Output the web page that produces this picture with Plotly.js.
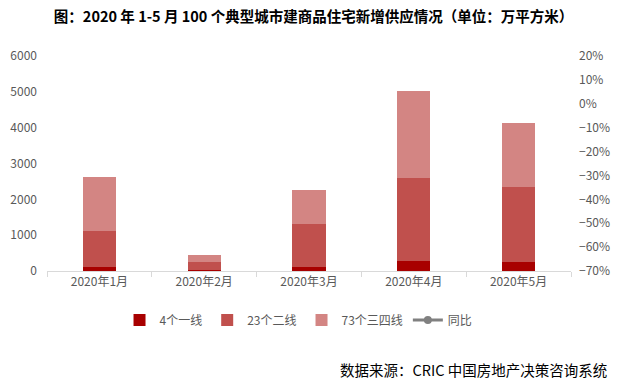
<!DOCTYPE html>
<html>
<head>
<meta charset="utf-8">
<script src="https://cdn.plot.ly/plotly-3.0.1.min.js"></script>
<style>html,body{margin:0;padding:0;background:#fff;}#chart{width:627px;height:386px;}</style>
</head>
<body>
<div id="chart"></div>
<script>
const months = ['2020年1月','2020年2月','2020年3月','2020年4月','2020年5月'];
const tier1 = [110, 35, 105, 280, 250];
const tier2 = [1005, 215, 1210, 2320, 2100];
const tier34 = [1515, 195, 950, 2430, 1790];
const yoy = [null, null, null, null, null];
const names = ['4个一线','23个二线','73个三四线','同比'];

const FONT = '"Noto Sans CJK SC", "DejaVu Sans", sans-serif';
const W = 0.315;
const traces = [
  {type:'bar', name:names[0], x:months, y:tier1, width:W, marker:{color:'#A80000'}},
  {type:'bar', name:names[1], x:months, y:tier2, width:W, marker:{color:'#C0504D'}},
  {type:'bar', name:names[2], x:months, y:tier34, width:W, marker:{color:'#D38583'}},
  {type:'scatter', mode:'lines+markers', name:names[3], x:months, y:yoy, yaxis:'y2',
   line:{color:'#808080', width:3}, marker:{color:'#808080', size:8}, connectgaps:false}
];
const layout = {
  width:627, height:386,
  margin:{l:47, r:56, t:56, b:115},
  paper_bgcolor:'#fff', plot_bgcolor:'#fff',
  barmode:'stack',
  font:{family:FONT, size:12, color:'#595959'},
  title:{text:'<b>图：2020 年 1-5 月 100 个典型城市建商品住宅新增供应情况（单位：万平方米）</b>',
         font:{family:FONT, size:14.5, color:'#000'}, x:0.5, xanchor:'center', y:0.955, yanchor:'middle'},
  xaxis:{showline:true, linecolor:'#D9D9D9', linewidth:1, ticks:'outside', tickson:'boundaries',
         ticklen:5, tickcolor:'#D9D9D9', showgrid:false, zeroline:false,
         tickfont:{family:FONT, size:12, color:'#595959'}},
  yaxis:{range:[0,6000], dtick:1000, tickformat:'d', showgrid:false, zeroline:false, showline:false,
         ticks:'', ticklabelstandoff:9, tickfont:{family:FONT, size:12, color:'#595959'}},
  yaxis2:{overlaying:'y', side:'right', range:[-0.7,0.2], dtick:0.1, tickformat:'.0%',
          showgrid:false, zeroline:false, showline:false, ticks:'', ticklabelstandoff:7,
          tickfont:{family:FONT, size:12, color:'#595959'}},
  legend:{orientation:'h', x:0.48, xanchor:'center', y:-0.228, yanchor:'middle',
          font:{family:FONT, size:12, color:'#595959'}, traceorder:'normal', itemwidth:30},
  showlegend:true,
  annotations:[{text:'数据来源：CRIC 中国房地产决策咨询系统', xref:'paper', yref:'paper',
    x:1.0725, y:-0.456, xanchor:'right', yanchor:'middle', showarrow:false,
    font:{family:FONT, size:14.5, color:'#000'}}]
};
Plotly.newPlot('chart', traces, layout, {displayModeBar:false, staticPlot:true});
</script>
</body>
</html>
